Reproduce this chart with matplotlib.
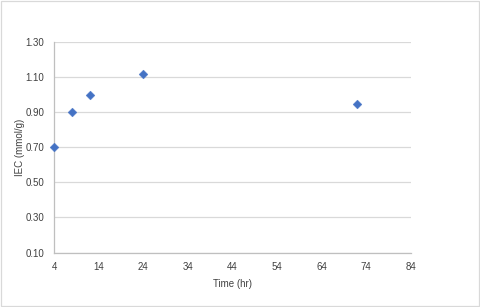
#!/usr/bin/env python3

import matplotlib
matplotlib.use("Agg")
import matplotlib.pyplot as plt
from matplotlib.patches import Rectangle

time_hr = [4, 8, 12, 24, 72]
iec = [0.70, 0.90, 1.00, 1.12, 0.95]
xticks = [4, 14, 24, 34, 44, 54, 64, 74, 84]
yticks = [0.10, 0.30, 0.50, 0.70, 0.90, 1.10, 1.30]


def main():
    plt.rcParams["font.family"] = ["Liberation Sans", "DejaVu Sans"]
    fig = plt.figure(figsize=(4.8, 3.07), dpi=100)
    ax = fig.add_axes([0.1125, 0.1775, 0.7431, 0.6845])

    ax.scatter(time_hr, iec, marker="D", s=20, color="#4472C4",
               edgecolors="#4472C4", linewidths=0.3, zorder=3, clip_on=False)

    ax.set_xlim(4, 84)
    ax.set_ylim(0.10, 1.30)
    ax.set_xticks(xticks)
    ax.set_yticks(yticks)
    ax.set_yticklabels(["%.2f" % v for v in yticks])
    ax.tick_params(axis="both", length=0, labelsize=7, colors="#404040", pad=7)
    ax.grid(axis="y", color="#D9D9D9", linewidth=0.9)
    ax.set_axisbelow(True)
    for side in ["top", "right"]:
        ax.spines[side].set_visible(False)
    for side in ["left", "bottom"]:
        ax.spines[side].set_color("#BFBFBF")
        ax.spines[side].set_linewidth(0.9)

    ax.set_xlabel("Time (hr)", fontsize=7, color="#404040", labelpad=5)
    ax.set_ylabel("IEC (mmol/g)", fontsize=7, color="#404040", labelpad=0)

    # chart border
    fig.patches.append(Rectangle((0.002, 0.003), 0.995, 0.994,
                                 transform=fig.transFigure, fill=False,
                                 edgecolor="#D9D9D9", linewidth=0.9))

    fig.savefig("out.png", dpi=100)
    plt.close(fig)


if __name__ == "__main__":
    main()
